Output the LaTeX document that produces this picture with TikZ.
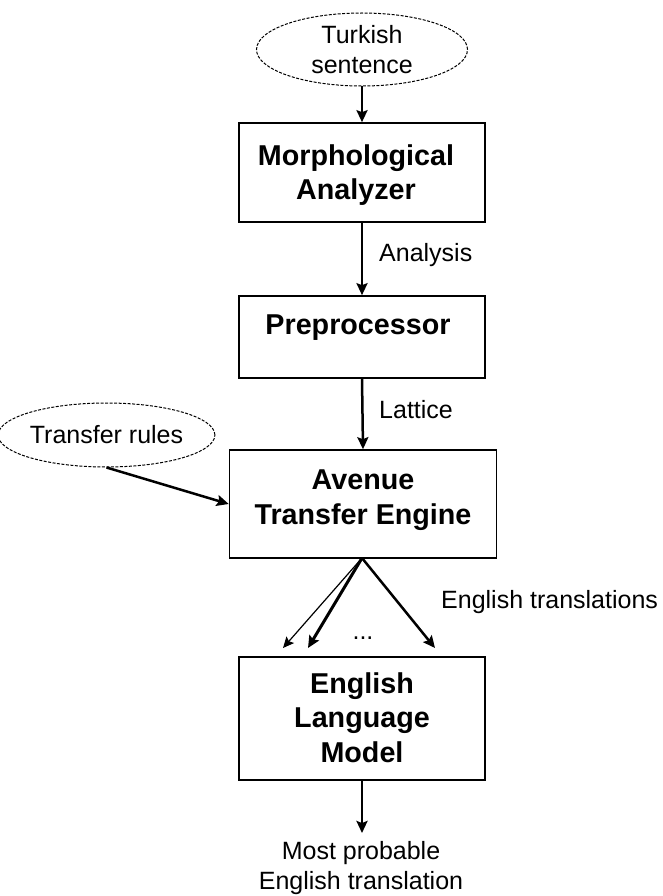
\documentclass[tikz,border=0pt]{standalone}
\usepackage{fontspec}
\setmainfont{Liberation Sans}
\usetikzlibrary{shapes.geometric,arrows.meta}
\begin{document}
\begin{tikzpicture}[x=1pt,y=-1pt,
  box/.style={draw,line width=1.6pt,rectangle,inner sep=0pt,align=center,
    font=\fontsize{28.7}{34.5}\selectfont\bfseries},
  btext/.style={inner sep=0pt,align=center,font=\fontsize{28.7}{34.5}\selectfont\bfseries},
  oval/.style={draw,ellipse,line width=1pt,dash pattern=on 3pt off 1.5pt,inner sep=0pt,align=center,
    font=\fontsize{25}{30}\selectfont},
  lbl/.style={inner sep=0pt,align=center,font=\fontsize{25}{30}\selectfont},
  arr/.style={line width=2.5pt,-{Stealth[length=12pt,width=11pt,inset=2pt]}}
]
\useasboundingbox (0,0) rectangle (662,896);
\node[oval,minimum width=211pt,minimum height=73pt] (turk) at (362,49.5) {Turkish\\sentence};
\node[box,minimum width=246pt,minimum height=99pt] (morph) at (362,172.5) {};
\node[btext] (morphtxt) at (356,175) {Morphological\\Analyzer};
\node[box,minimum width=246pt,minimum height=82pt] (pre) at (362,337) {};
\node[btext] (pretxt) at (358,328) {Preprocessor};
\node[box,minimum width=267pt,minimum height=108pt] (ave) at (363,504) {};
\node[btext] (avetxt) at (363,500) {Avenue\\Transfer Engine};
\node[box,minimum width=246pt,minimum height=123pt] (lm) at (362,718.5) {};
\node[btext] (lmtxt) at (362,717.5) {English\\Language\\Model};
\node[oval,minimum width=193pt,minimum height=64pt] (tr) at (106.5,435) {Transfer rules};

\node[lbl,anchor=west] (analysis) at (379,255) {Analysis};
\node[lbl,anchor=west] (lattice) at (379,410) {Lattice};
\node[lbl,anchor=west] (engtr) at (441,602) {English translations};
\node[lbl,anchor=base] (dots) at (363,639) {...};
\node[lbl] (most) at (361,868) {Most probable\\English translation};

\coordinate (f1) at (283,648);
\coordinate (f2) at (308,648);
\coordinate (f3) at (435,648);
\coordinate (o) at (362,558);
\coordinate (e) at (362,833);

\draw[arr] (turk.south) -- (morph.north);
\draw[arr] (morph.south) -- (pre.north);
\draw[arr] (pre.south) -- (ave.north);
\draw[arr] (tr.south) -- (ave.west);
\draw[line width=1.2pt,-{Stealth[length=11pt,width=10pt,inset=2pt]}] (o) -- (f1);
\draw[line width=3pt,-{Stealth[length=12pt,width=11pt,inset=2pt]}] (o) -- (f2);
\draw[arr] (o) -- (f3);
\draw[arr] (lm.south) -- (e);
\end{tikzpicture}
\end{document}
